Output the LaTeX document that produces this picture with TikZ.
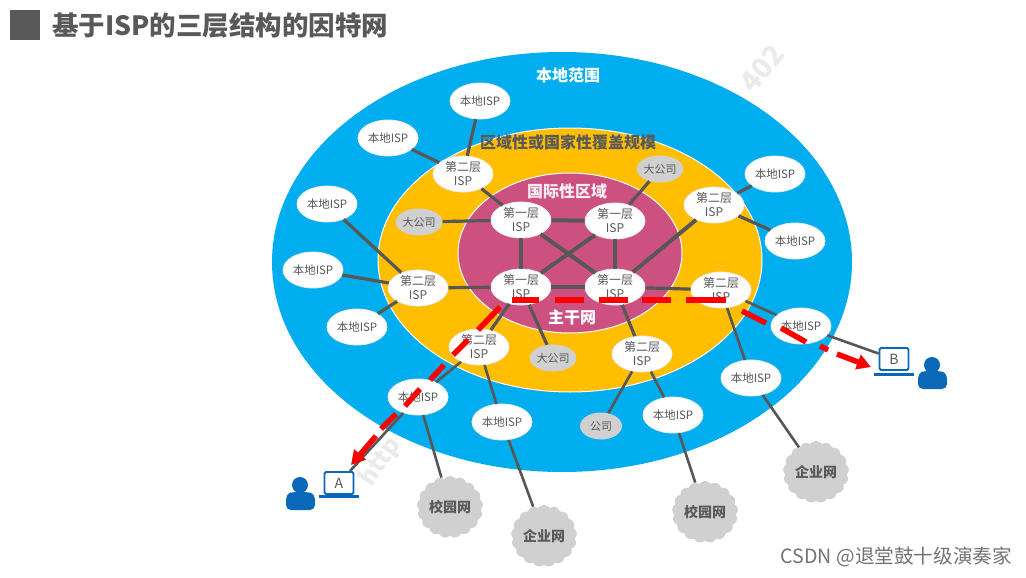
\documentclass[tikz,border=0pt]{standalone}
\usepackage{fontspec}
\setmainfont{Noto Sans CJK SC}
\usetikzlibrary{shapes.symbols,shapes.geometric,arrows.meta}
\definecolor{skyb}{HTML}{00AEEF}
\definecolor{orng}{HTML}{FFBE00}
\definecolor{pnk}{HTML}{CC5180}
\definecolor{ink}{HTML}{595959}
\definecolor{lnk}{HTML}{575757}
\definecolor{gry}{HTML}{D0D0D0}
\definecolor{icon}{HTML}{0B68B8}
\tikzset{
 x=1pt,y=-1pt,
 local/.style={ellipse,fill=white,draw=white!92!black,line width=.8pt,minimum width=60pt,minimum height=36pt,inner sep=0pt,font=\fontsize{11.5}{13}\selectfont,text=ink,align=center},
 tierb/.style={local,font=\fontsize{12}{14}\selectfont},
 tiera/.style={local,font=\fontsize{12}{14}\selectfont},
 corp/.style={ellipse,fill=gry,minimum width=42pt,minimum height=27pt,inner sep=0pt,font=\fontsize{11}{13}\selectfont,text=ink},
 netcloud/.style={cloud,cloud puffs=17,cloud puff arc=110,aspect=1.05,fill=gry,minimum width=66pt,minimum height=62pt,inner sep=0pt,font=\bfseries\fontsize{14}{16}\selectfont,text=ink},
 link/.style={draw=lnk,line width=3.2pt},
 core link/.style={draw=lnk,line width=4pt},
 thin link/.style={draw=lnk,line width=2.6pt},
 route/.style={draw=red,line width=5.5pt},
 ring/.style={draw=white,line width=1pt},
 zone/.style={font=\bfseries\fontsize{16}{18}\selectfont},
 personicon/.style={fill=icon},
 laptopicon/.style={draw=icon,line width=1.8pt,fill=white,rounded corners=1.5pt,minimum width=29pt,minimum height=22pt,inner sep=0pt,font=\fontsize{14}{16}\selectfont,text=ink},
}
\begin{document}
\begin{tikzpicture}
\useasboundingbox (0,0) rectangle (1026,578);
\fill[white] (0,0) rectangle (1026,578);
% title
\fill[ink] (10,10) rectangle (40,40);
\node[anchor=west,inner sep=0pt,text=ink,font=\bfseries\fontsize{26.5}{30}\selectfont] (title) at (52,26) {基于ISP的三层结构的因特网};
% zones
\node[rotate=50,text=black!8,font=\bfseries\fontsize{28}{32}\selectfont] (wa) at (762,68) {402};
\fill[skyb] (562,262) ellipse [x radius=290,y radius=210];
\filldraw[fill=orng,ring] (570,260) ellipse [x radius=192,y radius=132];
\filldraw[fill=pnk,ring] (570,253) ellipse [x radius=112,y radius=80];
\node[zone,text=white] (zl) at (568,75) {本地范围};
\node[zone,text=ink] (zr) at (568,142) {区域性或国家性覆盖规模};
\node[zone,text=white!90!pnk] (zi) at (567,191) {国际性区域};
\node[zone,text=white] (zb) at (572,317) {主干网};
\node[rotate=55,text=gray!70!white,text opacity=.22,font=\bfseries\fontsize{24}{28}\selectfont] (wb) at (381,462) {http};
% nodes
\node[local] (L1) at (480,101) {本地ISP};
\node[local] (L2) at (388,138) {本地ISP};
\node[local] (L3) at (327,204) {本地ISP};
\node[local] (L4) at (313,270) {本地ISP};
\node[local] (L5) at (357,327) {本地ISP};
\node[local] (L6) at (418,397) {本地ISP};
\node[local] (L7) at (502,422) {本地ISP};
\node[local] (L8) at (673,415) {本地ISP};
\node[local] (L9) at (751,378) {本地ISP};
\node[local] (L10) at (801,326) {本地ISP};
\node[local] (L11) at (795,241) {本地ISP};
\node[local] (L12) at (775,174) {本地ISP};
\node[tierb] (B1) at (463,174) {第二层\\ISP};
\node[tierb] (B2) at (418,288) {第二层\\ISP};
\node[tierb] (B3) at (479,347) {第二层\\ISP};
\node[tierb] (B4) at (642,354) {第二层\\ISP};
\node[tierb] (B5) at (721,290) {第二层\\ISP};
\node[tierb] (B6) at (714,205) {第二层\\ISP};
\node[tiera] (A1) at (521,220) {第一层\\ISP};
\node[tiera] (A2) at (615,221) {第一层\\ISP};
\node[tiera] (A3) at (521,287) {第一层\\ISP};
\node[tiera] (A4) at (615,287) {第一层\\ISP};
\node[corp] (C1) at (419,222) {大公司};
\node[corp] (C2) at (660,169) {大公司};
\node[corp] (C3) at (553,358) {大公司};
\node[corp] (C4) at (601,426) {公司};
\node[netcloud] (N1) at (450,507) {校园网};
\node[netcloud] (N2) at (544,536) {企业网};
\node[netcloud] (N3) at (705,512) {校园网};
\node[netcloud] (N4) at (816,472) {企业网};
% laptops
\node[laptopicon] (PA) at (339,483) {A};
\node[laptopicon] (PB) at (894,359) {B};
\fill[icon] (319,495) rectangle (359,498);
\fill[icon] (874,373) rectangle (914,376);
% persons
\fill[personicon] (300,485) circle (8);
\fill[personicon,rounded corners=5pt] (286,510) -- (286,494) -- (292,492) -- (308,492) -- (315,494) -- (315,510) -- cycle;
\fill[personicon] (932,365) circle (8);
\fill[personicon,rounded corners=5pt] (918,389) -- (918,373) -- (924,371) -- (940,371) -- (947,373) -- (947,389) -- cycle;
% links
\path[link] (L1) -- (B1);
\path[link] (L2) -- (B1);
\path[link] (L3) -- (B2);
\path[link] (L4) -- (B2);
\path[link] (L5) -- (B2);
\path[link] (B1) -- (A1);
\path[link] (C1) -- (A1);
\path[core link] (A1) -- (A2);
\path[core link] (A1) -- (A3);
\path[core link] (A1) -- (A4);
\path[core link] (A2) -- (A3);
\path[core link] (A2) -- (A4);
\path[core link] (A3) -- (A4);
\path[link] (A2) -- (C2);
\path[core link] (B6) -- (A4);
\path[link] (B2) -- (A3);
\path[link] (A3) -- (B3);
\path[link] (A3) -- (C3);
\path[link] (A4) -- (B4);
\path[link] (A4) -- (B5);
\path[thin link] (B5) -- (L10);
\path[thin link] (B5) -- (L9);
\path[thin link] (B3) -- (L6);
\path[thin link] (B3) -- (L7);
\path[thin link] (B4) -- (C4);
\path[thin link] (B4) -- (L8);
\path[thin link] (L6) -- (N1);
\path[thin link] (L7) -- (N2);
\path[thin link] (L8) -- (N3);
\path[thin link] (L9) -- (N4);
\path[thin link] (L10) -- (PB);
\path[thin link] (L6) -- (PA);
\path[link] (L11) -- (B6);
\path[link] (L12) -- (B6);
% red route
\path[route] (512,300) -- (539,300);
\path[route] (555,300) -- (584,300);
\path[route] (599,300) -- (628,300);
\path[route] (642,300) -- (671,300);
\path[route] (686,300) -- (726,300);
\path[route] (742,311) -- (766,323);
\path[route] (781,328) -- (806,342);
\path[route] (820,346) -- (828,350);
\path[route,-{Triangle[length=14pt,width=15pt]}] (837,354) -- (871,367);
\path[route] (500,307) -- (478,330);
\path[route] (468,340) -- (453,355);
\path[route] (444,365) -- (430,380);
\path[route] (420,389) -- (405,406);
\path[route] (396,414) -- (381,429);
\path[route,-{Triangle[length=14pt,width=15pt]}] (376,436) -- (351,465);
% watermark
\node[anchor=east,inner sep=0pt,text=black!55,font=\fontsize{19.6}{23}\selectfont] (csdn) at (1012,557) {CSDN @退堂鼓十级演奏家};
\end{tikzpicture}
\end{document}
